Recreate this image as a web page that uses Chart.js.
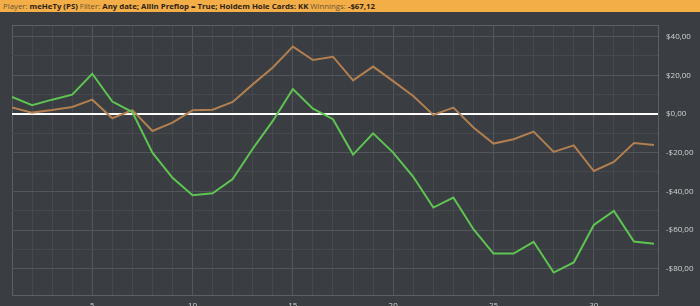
<!DOCTYPE html>
<html>
<head>
<meta charset="utf-8">
<script src="https://cdn.jsdelivr.net/npm/chart.js@4/dist/chart.umd.min.js"></script>
<style>
  html, body { margin: 0; padding: 0; width: 700px; height: 306px; overflow: hidden; background: #3a3d41; }
  #kop {
    position: absolute; left: 0; top: 0; width: 700px; height: 12px; box-sizing: border-box;
    padding-left: 3px; background: #f3ae48; color: #6a5434; white-space: nowrap; z-index: 2;
    font: 7.8px 'Open Sans', sans-serif; line-height: 12px;
  }
  #kop b { color: #2a2116; font-weight: 700; }
  #wrap { position: absolute; left: 0; top: 0; width: 700px; height: 316px; }
</style>
</head>
<body>
<div id="kop">Player: <b>meHeTy (PS)</b> Filter: <b>Any date; Allin Preflop = True; Holdem Hole Cards: KK</b> Winnings: <b>-$67,12</b></div>
<div id="wrap"><canvas id="grafiek" width="700" height="316"></canvas></div>
<script>
'use strict';

// handnummers en resultaten (in dollars)
const handen = [1, 2, 3, 4, 5, 6, 7, 8, 9, 10, 11, 12, 13, 14, 15, 16, 17, 18, 19, 20, 21, 22, 23, 24, 25, 26, 27, 28, 29, 30, 31, 32, 33];
const winst = [8.8, 4.5, 7.4, 10, 20.8, 6.4, 1, -20, -33, -42, -41, -33.6, -18, -3.6, 12.9, 2.7, -2.7, -21, -10, -20, -32.5, -48.4, -43.2, -59.6, -72.2, -72.2, -66.1, -82, -76.8, -57.4, -50.1, -66, -67.1];
const allinEv = [3.3, 0.7, 2, 3.6, 7.4, -2.2, 2, -8.8, -4.5, 1.9, 2.2, 6.2, 15.3, 24, 34.8, 27.9, 29.6, 17.4, 24.5, 17, 9.3, -0.5, 3.3, -7, -15.3, -13.1, -9.1, -19.6, -16.2, -29.5, -24.8, -15, -16];
const xLabels = [5, 10, 15, 20, 25, 30];
const yLabels = [40, 20, 0, -20, -40, -60, -80];

// bereik bewust geen veelvoud van de stap, anders schuift Chart.js de ticks op
const X_MIN = 1, X_MAX = 33.2, Y_MIN = -93.6, Y_MAX = 46;
const kleur = { rand: '#5c5f64', hoofd: '#53565b', fijn: '#46494d', tekst: '#d2d4d6' };

const dollar = v => (v < 0 ? '-' : '') + '$' + Math.abs(v).toFixed(2).replace('.', ',');

new Chart(document.getElementById('grafiek'), {
  type: 'line',
  data: {
    datasets: [
      {
        label: 'Winnings',
        data: handen.map((h, i) => ({ x: h, y: winst[i] })),
        borderColor: '#5ec552',
        borderWidth: 2,
        pointRadius: 0,
        tension: 0
      },
      {
        label: 'All-in EV',
        data: handen.map((h, i) => ({ x: h, y: allinEv[i] })),
        borderColor: '#b17f50',
        borderWidth: 2,
        pointRadius: 0,
        tension: 0
      }
    ]
  },
  options: {
    responsive: false,
    animation: false,
    devicePixelRatio: 1,
    layout: { padding: { left: 12, top: 25, right: 0, bottom: 0 } },
    plugins: { legend: { display: false }, tooltip: { enabled: false } },
    scales: {
      x: {
        type: 'linear', min: X_MIN, max: X_MAX,
        afterFit: s => { s.height = 21; },
        border: { color: kleur.rand },
        grid: {
          drawTicks: false,
          color: c => {
            const v = c.tick && c.tick.value;
            if (v === X_MIN || v === X_MAX) return kleur.rand;
            return v % 5 === 0 ? kleur.hoofd : kleur.fijn;
          }
        },
        ticks: {
          stepSize: 1, autoSkip: false, maxRotation: 0, padding: 6,
          color: kleur.tekst, font: { family: "'Open Sans', sans-serif", size: 8 },
          callback: v => xLabels.includes(v) ? String(v) : ''
        }
      },
      y: {
        position: 'right', min: Y_MIN, max: Y_MAX,
        afterFit: s => { s.width = 42; },
        border: { color: kleur.rand },
        grid: {
          drawTicks: false,
          color: c => {
            const v = c.tick && c.tick.value;
            if (v === 0) return '#ffffff';
            if (v === Y_MIN || v === Y_MAX) return kleur.rand;
            return v % 20 === 0 ? kleur.hoofd : kleur.fijn;
          },
          lineWidth: c => (c.tick && c.tick.value === 0) ? 2 : 1
        },
        ticks: {
          stepSize: 10, autoSkip: false, padding: 8,
          color: kleur.tekst, font: { family: "'Open Sans', sans-serif", size: 8 },
          callback: v => yLabels.includes(v) ? dollar(v) : ''
        }
      }
    }
  }
});
</script>
</body>
</html>
